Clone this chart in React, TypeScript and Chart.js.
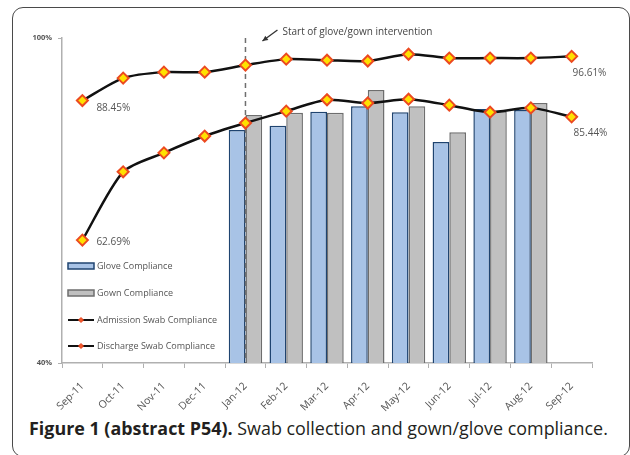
import React, { useEffect, useRef } from 'react';
import { Chart, registerables } from 'chart.js';
Chart.register(...registerables);

const months = ['Sep-11', 'Oct-11', 'Nov-11', 'Dec-11', 'Jan-12', 'Feb-12', 'Mar-12', 'Apr-12', 'May-12', 'Jun-12', 'Jul-12', 'Aug-12', 'Sep-12'];
const admissionSwab = [88.45, 92.6, 93.7, 93.7, 95.0, 96.1, 95.9, 95.75, 97.0, 96.3, 96.3, 96.3, 96.61];
const dischargeSwab = [62.69, 75.3, 78.8, 81.9, 84.3, 86.5, 88.6, 88.0, 88.7, 87.6, 86.3, 87.1, 85.44];
const gloveCompliance = [null, null, null, null, 83.0, 83.8, 86.4, 87.4, 86.3, 80.8, 86.9, 86.7, null];
const gownCompliance = [null, null, null, null, 85.8, 86.2, 86.2, 90.4, 87.4, 82.6, 86.5, 88.0, null];
const yTicks = [40, 100];
const interventionMonth = 'Jan-12';
const annotationText = 'Start of glove/gown intervention';
const legendLabels = ['Glove Compliance', 'Gown Compliance', 'Admission Swab Compliance', 'Discharge Swab Compliance'];

const FONT = '"Open Sans", "DejaVu Sans", sans-serif';

function drawDiamond(ctx: CanvasRenderingContext2D, x: number, y: number, r: number, fill: string, stroke: string, lw: number) {
  ctx.beginPath();
  ctx.moveTo(x, y - r);
  ctx.lineTo(x + r, y);
  ctx.lineTo(x, y + r);
  ctx.lineTo(x - r, y);
  ctx.closePath();
  ctx.fillStyle = fill;
  ctx.fill();
  ctx.lineWidth = lw;
  ctx.strokeStyle = stroke;
  ctx.stroke();
}

const overlayPlugin = {
  id: 'overlay',
  afterDatasetDraw(chart: any, args: any) {
    if (args.index !== 2) return;
    const { ctx, chartArea, scales } = chart;
    const px = scales.x.getPixelForValue(months.indexOf(interventionMonth));
    ctx.save();
    ctx.setLineDash([5, 4]);
    ctx.strokeStyle = '#6f6f6f';
    ctx.lineWidth = 1.5;
    ctx.beginPath();
    ctx.moveTo(px, chartArea.top);
    ctx.lineTo(px, chartArea.bottom);
    ctx.stroke();
    ctx.restore();
  },
  afterDraw(chart: any) {
    const { ctx, chartArea, scales } = chart;
    const x = scales.x, y = scales.y;
    ctx.save();
    // annotation
    const px = x.getPixelForValue(months.indexOf(interventionMonth));
    ctx.font = `10px ${FONT}`;
    ctx.fillStyle = '#444';
    ctx.textBaseline = 'middle';
    ctx.textAlign = 'left';
    ctx.fillText(annotationText, px + 37, chartArea.top - 6);
    // arrow
    const ax0 = px + 32, ay0 = chartArea.top - 8, ax1 = px + 17, ay1 = chartArea.top + 3;
    ctx.strokeStyle = '#333';
    ctx.lineWidth = 1.3;
    ctx.beginPath();
    ctx.moveTo(ax0, ay0);
    ctx.lineTo(ax1, ay1);
    ctx.stroke();
    const ang = Math.atan2(ay1 - ay0, ax1 - ax0);
    ctx.fillStyle = '#333';
    ctx.beginPath();
    ctx.moveTo(ax1, ay1);
    ctx.lineTo(ax1 - 6 * Math.cos(ang - 0.45), ay1 - 6 * Math.sin(ang - 0.45));
    ctx.lineTo(ax1 - 6 * Math.cos(ang + 0.45), ay1 - 6 * Math.sin(ang + 0.45));
    ctx.closePath();
    ctx.fill();

    // data labels
    ctx.font = `10px ${FONT}`;
    ctx.fillStyle = '#555';
    const last = months.length - 1;
    const lab = (arr: number[], i: number, dx: number, dy: number) => {
      ctx.fillText(arr[i].toFixed(2) + '%', x.getPixelForValue(i) + dx, y.getPixelForValue(arr[i]) + dy);
    };
    lab(admissionSwab, 0, 14, 8);
    lab(dischargeSwab, 0, 14, 2);
    lab(admissionSwab, last, 1, 17);
    lab(dischargeSwab, last, 2, 16);

    // legend
    const lx = chartArea.left + 6;
    const rows = [chartArea.bottom - 97, chartArea.bottom - 70, chartArea.bottom - 43, chartArea.bottom - 17];
    const ds = chart.data.datasets;
    ctx.font = `9px ${FONT}`;
    legendLabels.forEach((label, i) => {
      const ry = rows[i];
      if (i < 2) {
        const d = ds[i + 2];
        ctx.fillStyle = d.backgroundColor;
        ctx.fillRect(lx, ry - 3, 26, 6);
        ctx.strokeStyle = d.borderColor;
        ctx.lineWidth = 1.5;
        ctx.strokeRect(lx, ry - 3, 26, 6);
      } else {
        const d = ds[i - 2];
        ctx.strokeStyle = d.borderColor;
        ctx.lineWidth = 2;
        ctx.beginPath();
        ctx.moveTo(lx, ry);
        ctx.lineTo(lx + 26, ry);
        ctx.stroke();
        drawDiamond(ctx, lx + 13, ry, 2.5, '#f25a2a', '#e8401c', 1);
      }
      ctx.fillStyle = '#555';
      ctx.fillText(label, lx + 29, ry);
    });
    ctx.restore();
  },
};

export default function App() {
  const ref = useRef<HTMLCanvasElement>(null);
  useEffect(() => {
    document.body.style.margin = '0';
    const lineCommon = {
      type: 'line' as const,
      borderColor: '#111',
      borderWidth: 2.5,
      tension: 0.25,
      pointStyle: 'rectRot' as const,
      pointRadius: 5.5,
      pointBackgroundColor: '#ffe100',
      pointBorderColor: '#ec4a20',
      pointBorderWidth: 2,
      fill: false,
    };
    const chart = new Chart(ref.current!, {
      type: 'bar',
      data: {
        labels: months,
        datasets: [
          { ...lineCommon, label: legendLabels[2], data: admissionSwab },
          { ...lineCommon, label: legendLabels[3], data: dischargeSwab },
          {
            type: 'bar', label: legendLabels[0], data: gloveCompliance as any,
            backgroundColor: '#a8c3e6', borderColor: '#1f4470', borderWidth: 1.5,
            categoryPercentage: 0.82, barPercentage: 1.0,
          },
          {
            type: 'bar', label: legendLabels[1], data: gownCompliance as any,
            backgroundColor: '#c0c0c0', borderColor: '#6e6e6e', borderWidth: 1.5,
            categoryPercentage: 0.82, barPercentage: 1.0,
          },
        ] as any,
      },
      options: {
        animation: false,
        responsive: false,
        layout: { padding: { left: 0, top: 38, right: 38, bottom: 0 } },
        plugins: { legend: { display: false }, tooltip: { enabled: false } },
        scales: {
          x: {
            grid: { display: true, drawOnChartArea: false, drawTicks: true, tickLength: 5, color: '#b0b0b0', offset: true },
            border: { display: true, color: '#b0b0b0', width: 1.5 },
            ticks: {
              color: '#555', font: { size: 10.5, family: FONT }, minRotation: 45, maxRotation: 45, padding: 12,
              autoSkip: false,
            },
            afterFit: (s: any) => { s.height = 52; },
          },
          y: {
            min: 40, max: 100,
            grid: { display: true, drawOnChartArea: false, drawTicks: true, tickLength: 4, color: '#b0b0b0' },
            border: { display: true, color: '#b0b0b0', width: 1.5 },
            ticks: {
              stepSize: 60, color: '#555', font: { size: 7.5, family: FONT, weight: 'bold' }, padding: 6,
              callback: (v: any) => (yTicks.includes(Number(v)) ? v + '%' : ''),
            },
            afterFit: (s: any) => { s.width = 62; },
          },
        },
      } as any,
      plugins: [overlayPlugin],
    });
    return () => chart.destroy();
  }, []);

  return (
    <div style={{ position: 'fixed', left: 0, top: 0, width: 630, height: 455, overflow: 'hidden', background: '#fff' }}>
      <div style={{
        position: 'absolute', left: 12, top: 7, width: 618, height: 450, boxSizing: 'border-box',
        border: '1px solid #4a4a4a', borderRadius: 11,
      }} />
      <canvas ref={ref} width={630} height={415} style={{ position: 'absolute', left: 0, top: 0, width: 630, height: 415 }} />
      <div style={{
        position: 'absolute', left: 29, top: 415, whiteSpace: 'nowrap',
        fontFamily: FONT, fontSize: 17.9, color: '#231f20', lineHeight: '26px',
      }}>
        <b style={{ fontWeight: 700 }}>Figure 1 (abstract P54).</b> Swab collection and gown/glove compliance.
      </div>
    </div>
  );
}
